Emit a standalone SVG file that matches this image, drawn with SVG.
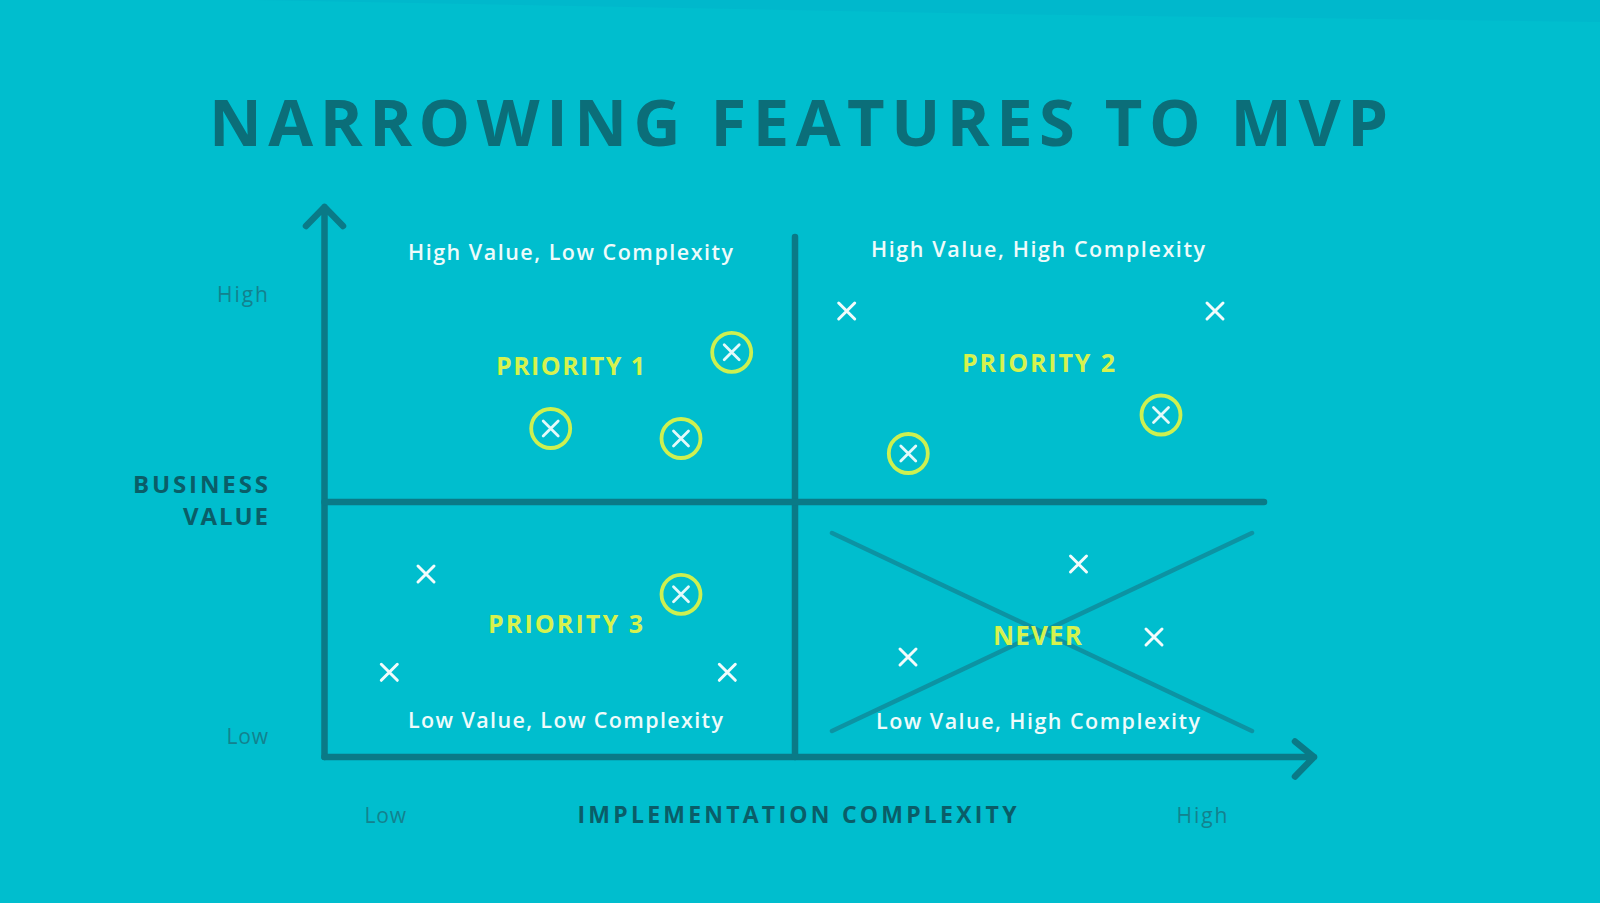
<svg xmlns="http://www.w3.org/2000/svg" xmlns:xlink="http://www.w3.org/1999/xlink" width="1600" height="903" viewBox="0 0 1600 903">
  <style>
    .title { font-family: "Open Sans", "Noto Sans", sans-serif; font-weight: bold; font-size: 65px; fill: #0B6E79; }
    .quad { font-family: "Open Sans", "Noto Sans", sans-serif; font-weight: 600; font-size: 21.5px; fill: #EEFBFB; }
    .prio { font-family: "Open Sans", "Noto Sans", sans-serif; font-weight: bold; font-size: 25px; fill: #D6F24E; }
    .axisname { font-family: "Open Sans", "Noto Sans", sans-serif; font-weight: bold; font-size: 24px; fill: #0A5D68; }
    .tick { font-family: "Open Sans", "Noto Sans", sans-serif; font-weight: normal; font-size: 21px; fill: #13828E; }
    .axis { stroke: #0A7A87; stroke-width: 6.5; fill: none; stroke-linecap: round; stroke-linejoin: round; }
    .diag { stroke: #0C93A3; stroke-width: 4.5; fill: none; stroke-linecap: round; }
    .xm { stroke: #F2FCFC; stroke-width: 3; stroke-linecap: round; fill: none; }
    .xc { stroke: #E4FAFA; stroke-width: 2.8; stroke-linecap: round; fill: none; }
    .ring { stroke: #CDF050; stroke-width: 3.8; fill: none; }
  </style>
  <defs>
    <g id="xmark">
      <path class="xm" d="M-8,-8 L8,8 M8,-8 L-8,8"/>
    </g>
    <g id="cxmark">
      <circle class="ring" r="19.5"/>
      <path class="xc" d="M-7.5,-7.5 L7.5,7.5 M7.5,-7.5 L-7.5,7.5"/>
    </g>
  </defs>

  <rect x="0" y="0" width="1600" height="903" fill="#00BECE"/>
  <polygon points="250,0 1600,0 1600,22 1000,14 250,0" fill="#00B8CC"/>

  <text class="title" x="209" y="146" textLength="1179" lengthAdjust="spacing">NARROWING FEATURES TO MVP</text>

  <g id="connectors">
    <path id="y-axis" class="axis" d="M324.5,757 L324.5,207 M306,226 L324.5,207 L343,226"/>
    <path id="x-axis" class="axis" d="M324.5,757 L1314,757 M1295,741.5 L1314,757 L1295,776.5"/>
    <path id="mid-vertical" class="axis" d="M795,237 L795,757"/>
    <path id="mid-horizontal" class="axis" d="M324.5,502 L1264,502"/>
    <path id="never-cross" class="diag" d="M832,533 L1252,731 M832,731 L1252,533"/>
  </g>

  <g id="axis-labels">
    <text class="tick" x="268" y="301.5" text-anchor="end" textLength="51" lengthAdjust="spacing">High</text>
    <text class="tick" x="268" y="744" text-anchor="end" textLength="41.5" lengthAdjust="spacing">Low</text>
    <text class="axisname" x="268" y="492.5" text-anchor="end" textLength="135" lengthAdjust="spacing">BUSINESS</text>
    <text class="axisname" x="268" y="525" text-anchor="end" textLength="85" lengthAdjust="spacing">VALUE</text>
    <text class="tick" x="364.5" y="823" textLength="41.5" lengthAdjust="spacing">Low</text>
    <text class="axisname" x="577.5" y="823" textLength="439" lengthAdjust="spacing" style="font-size:23px">IMPLEMENTATION COMPLEXITY</text>
    <text class="tick" x="1176.5" y="823" textLength="51" lengthAdjust="spacing">High</text>
  </g>

  <g id="q-priority1">
    <text class="quad" x="408" y="259.5" textLength="325" lengthAdjust="spacing">High Value, Low Complexity</text>
    <text class="prio" x="496" y="375" textLength="149" lengthAdjust="spacing">PRIORITY 1</text>
    <use xlink:href="#cxmark" x="731.7" y="352.3"/>
    <use xlink:href="#cxmark" x="550.7" y="428.5"/>
    <use xlink:href="#cxmark" x="681" y="438.5"/>
  </g>

  <g id="q-priority2">
    <text class="quad" x="871" y="256.5" textLength="334" lengthAdjust="spacing">High Value, High Complexity</text>
    <text class="prio" x="962" y="372" textLength="153" lengthAdjust="spacing">PRIORITY 2</text>
    <use xlink:href="#xmark" x="846.7" y="311"/>
    <use xlink:href="#xmark" x="1215" y="311"/>
    <use xlink:href="#cxmark" x="1161" y="415"/>
    <use xlink:href="#cxmark" x="908.3" y="453.5"/>
  </g>

  <g id="q-priority3">
    <text class="quad" x="408" y="728" textLength="315" lengthAdjust="spacing">Low Value, Low Complexity</text>
    <text class="prio" x="488" y="633" textLength="155" lengthAdjust="spacing">PRIORITY 3</text>
    <use xlink:href="#xmark" x="426" y="574"/>
    <use xlink:href="#xmark" x="389.3" y="672.3"/>
    <use xlink:href="#xmark" x="727.3" y="672.3"/>
    <use xlink:href="#cxmark" x="681" y="594.3"/>
  </g>

  <g id="q-never">
    <text class="quad" x="876" y="729" textLength="324" lengthAdjust="spacing">Low Value, High Complexity</text>
    <text class="prio" x="993" y="645" textLength="89" lengthAdjust="spacing" style="font-size:26px">NEVER</text>
    <use xlink:href="#xmark" x="1078.5" y="564"/>
    <use xlink:href="#xmark" x="1154" y="637"/>
    <use xlink:href="#xmark" x="908" y="657"/>
  </g>
</svg>
